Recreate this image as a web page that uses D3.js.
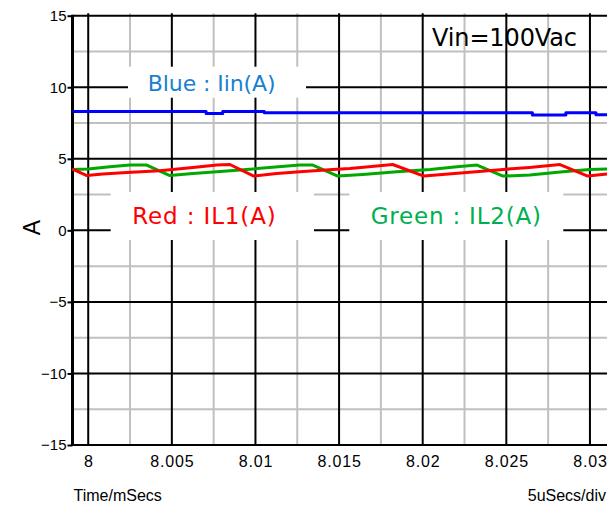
<!DOCTYPE html>
<html>
<head>
<meta charset="utf-8">
<script src="https://cdn.jsdelivr.net/npm/d3@7"></script>
<style>
  html, body { margin: 0; padding: 0; background: #fff; }
  svg { display: block; }
</style>
</head>
<body>
<div id="chart"></div>
<script>
// ---------- data ----------
const yTicks = [15, 10, 5, 0, -5, -10, -15];
const yMinor = [12.5, 7.5, 2.5, -2.5, -7.5, -12.5];
const xTicks = [8, 8.005, 8.01, 8.015, 8.02, 8.025, 8.03];
const xTickLabels = ["8", "8.005", "8.01", "8.015", "8.02", "8.025", "8.03"];
const xMinor = [8.0025, 8.0075, 8.0125, 8.0175, 8.0225, 8.0275];

const blueTime   = [7.99906, 8.00705, 8.00804, 8.01053, 8.02656, 8.02856, 8.03036, 8.03102];
const blueValues = [8.30, 8.17, 8.30, 8.21, 8.06, 8.22, 8.07, 8.07];

const redTime = [7.99906, 7.99992, 8.00087, 8.00231, 8.00428, 8.00626, 8.00769, 8.00847,
                 8.00990, 8.01128, 8.01265, 8.01463, 8.01564, 8.01726, 8.01821,
                 8.02007, 8.02246, 8.02482, 8.02638, 8.02821, 8.02987, 8.03102];
const redValues = [4.28, 3.83, 3.93, 4.05, 4.16, 4.40, 4.56, 4.60,
                   3.79, 3.98, 4.09, 4.26, 4.33, 4.49, 4.60,
                   3.79, 4.03, 4.26, 4.40, 4.60, 3.79, 3.93];

const greenTime = [7.99906, 8.00000, 8.00129, 8.00249, 8.00350, 8.00488, 8.00626, 8.00769,
                   8.00948, 8.01265, 8.01343, 8.01492, 8.01642, 8.01845, 8.02044,
                   8.02205, 8.02325, 8.02480, 8.02641, 8.02838, 8.02999, 8.03102];
const greenValues = [4.25, 4.28, 4.45, 4.56, 4.56, 3.83, 3.98, 4.09,
                     4.26, 4.56, 4.56, 3.79, 3.91, 4.09, 4.26,
                     4.44, 4.56, 3.79, 3.86, 4.09, 4.26, 4.28];

const legendLabels = ["Blue : Iin(A)", "Red : IL1(A)", "Green : IL2(A)"];
const annotation = "Vin=100Vac";
const yAxisTitle = "A";
const xAxisTitle = "Time/mSecs";
const xScaleNote = "5uSecs/div";

(function () {
// ---------- layout ----------
const W = 610, H = 507;
const pL = 72.5, pR = 607, pT = 15.7, pB = 445;

const svg = d3.select("#chart").append("svg").attr("width", W).attr("height", H);
svg.append("rect").attr("width", W).attr("height", H).attr("fill", "#fff");

const x = d3.scaleLinear().domain([7.99906, 8.03102]).range([pL, pR]);
const y = d3.scaleLinear().domain([-15, 15]).range([pB, pT]);

const grid = svg.append("g");
grid.selectAll(".hmin").data(yMinor).join("line")
  .attr("x1", pL).attr("x2", pR)
  .attr("y1", d => y(d)).attr("y2", d => y(d))
  .attr("stroke", "#c0c0c0").attr("stroke-width", 2);
grid.selectAll(".vmin").data(xMinor).join("line")
  .attr("x1", d => x(d)).attr("x2", d => x(d))
  .attr("y1", pT - 2.5).attr("y2", pB)
  .attr("stroke", "#c0c0c0").attr("stroke-width", 2);
grid.selectAll(".hmaj").data(yTicks).join("line")
  .attr("x1", pL).attr("x2", pR)
  .attr("y1", d => y(d)).attr("y2", d => y(d))
  .attr("stroke", "#000").attr("stroke-width", 2);
grid.selectAll(".vmaj").data(xTicks).join("line")
  .attr("x1", d => x(d)).attr("x2", d => x(d))
  .attr("y1", pT - 2.5).attr("y2", pB)
  .attr("stroke", "#000").attr("stroke-width", 2);

// white label boxes hiding grid
const boxes = [
  {x: 128, y: 66.7, w: 178, h: 31},
  {x: 110.7, y: 192, w: 203.3, h: 48},
  {x: 349.3, y: 192, w: 214, h: 48}
];
svg.selectAll(".box").data(boxes).join("rect")
  .attr("x", d => d.x).attr("y", d => d.y).attr("width", d => d.w).attr("height", d => d.h)
  .attr("fill", "#fff");

svg.append("line").attr("x1", pL).attr("x2", pL).attr("y1", pT - 1).attr("y2", pB + 1)
  .attr("stroke", "#000").attr("stroke-width", 3);

const yAxis = svg.append("g").attr("transform", `translate(${pL},0)`)
  .call(d3.axisLeft(y).tickValues(yTicks).tickSize(5).tickPadding(1).tickFormat(d3.format("d")));
yAxis.select(".domain").remove();
yAxis.selectAll(".tick line").attr("stroke", "#000").attr("stroke-width", 2);
yAxis.selectAll(".tick text").attr("fill", "#000")
  .style("font-family", "'Liberation Sans', Arial, sans-serif").style("font-size", "15px");

const xAxis = svg.append("g").attr("transform", `translate(0,${pB})`)
  .call(d3.axisBottom(x).tickValues(xTicks).tickSize(0).tickPadding(11)
    .tickFormat((d, i) => xTickLabels[i]));
xAxis.select(".domain").remove();
xAxis.selectAll(".tick text").attr("fill", "#000")
  .style("font-family", "'Liberation Sans', Arial, sans-serif").style("font-size", "16px")
  .style("letter-spacing", "0.8px");

const lineGen = curve => d3.line().x(d => x(d[0])).y(d => y(d[1])).curve(curve);
const series = [
  {t: greenTime, v: greenValues, c: "#00a800", curve: d3.curveLinear},
  {t: redTime, v: redValues, c: "#ff0000", curve: d3.curveLinear},
  {t: blueTime, v: blueValues, c: "#0000ff", curve: d3.curveStepAfter}
];
series.forEach(s => {
  const pts = s.t.map((t, i) => [t, s.v[i]]);
  svg.append("path").datum(pts).attr("d", lineGen(s.curve))
    .attr("fill", "none").attr("stroke", s.c).attr("stroke-width", 3)
    .attr("stroke-linejoin", "round");
});

const legendFont = "'DejaVu Sans', Verdana, sans-serif";
const legendPos = [
  {x: 147.7, y: 90.7, w: 128, c: "#1a7fd0", fs: 22},
  {x: 132.3, y: 224, w: 143.4, c: "#ff0000", fs: 23},
  {x: 370.7, y: 224, w: 170.3, c: "#00b050", fs: 23}
];
legendLabels.forEach((lab, i) => {
  const p = legendPos[i];
  svg.append("text").attr("x", p.x).attr("y", p.y).text(lab)
    .attr("fill", p.c).style("font-family", legendFont).style("font-size", p.fs + "px")
    .attr("textLength", p.w).attr("lengthAdjust", "spacing");
});

svg.append("text").attr("x", 432).attr("y", 45.5).text(annotation)
  .attr("fill", "#000").style("font-family", legendFont).style("font-size", "24px")
  .attr("textLength", 145).attr("lengthAdjust", "spacing");

svg.append("text").attr("transform", "translate(39.5,227.5) rotate(-90)")
  .attr("text-anchor", "middle").text(yAxisTitle)
  .attr("fill", "#000").style("font-family", "'Liberation Sans', Arial, sans-serif").style("font-size", "23px");

svg.append("text").attr("x", 73.5).attr("y", 501).text(xAxisTitle)
  .attr("fill", "#000").style("font-family", "'Liberation Sans', Arial, sans-serif").style("font-size", "16px");
svg.append("text").attr("x", 606).attr("y", 501).attr("text-anchor", "end").text(xScaleNote)
  .attr("fill", "#000").style("font-family", "'Liberation Sans', Arial, sans-serif").style("font-size", "16px");
})();
</script>
</body>
</html>
